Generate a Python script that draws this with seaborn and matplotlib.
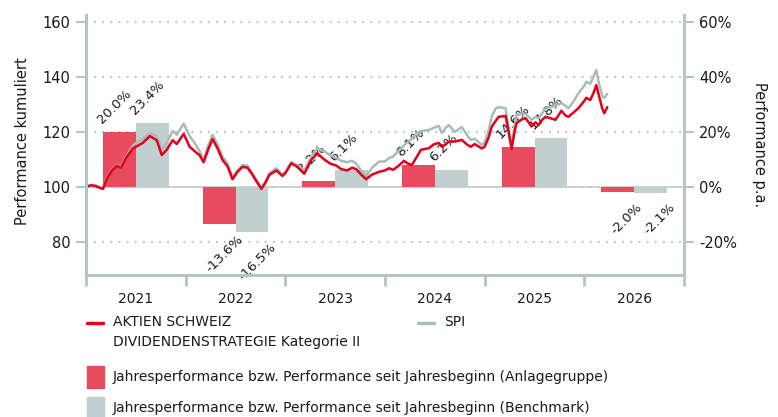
import matplotlib
matplotlib.use("Agg")
import matplotlib.pyplot as plt
import seaborn as sns
import pandas as pd
from matplotlib.lines import Line2D
from matplotlib.patches import Rectangle
from matplotlib.ticker import FuncFormatter

# ---------------- data ----------------
dates = [2021.00, 2021.05, 2021.10, 2021.14, 2021.17, 2021.21, 2021.26, 2021.31, 2021.35, 2021.41,
         2021.47, 2021.52, 2021.57, 2021.64, 2021.71, 2021.76, 2021.81, 2021.87, 2021.91, 2021.98,
         2022.04, 2022.09, 2022.14, 2022.18, 2022.23, 2022.27, 2022.32, 2022.37, 2022.42, 2022.47,
         2022.52, 2022.57, 2022.62, 2022.67, 2022.72, 2022.76, 2022.80, 2022.84, 2022.91, 2022.97,
         2023.00, 2023.06, 2023.12, 2023.19, 2023.26, 2023.32, 2023.39, 2023.45, 2023.51, 2023.56,
         2023.62, 2023.67, 2023.71, 2023.76, 2023.81, 2023.87, 2023.94,
         2024.00, 2024.04, 2024.08, 2024.13, 2024.19, 2024.23, 2024.27, 2024.32, 2024.36, 2024.40,
         2024.44, 2024.49, 2024.54, 2024.57, 2024.61, 2024.64, 2024.70, 2024.77, 2024.82, 2024.86,
         2024.90, 2024.97,
         2025.00, 2025.04, 2025.07, 2025.11, 2025.14, 2025.21, 2025.24, 2025.27, 2025.30, 2025.32,
         2025.37, 2025.41, 2025.44, 2025.47, 2025.51, 2025.54, 2025.58, 2025.61, 2025.66, 2025.71,
         2025.74, 2025.77, 2025.81, 2025.84, 2025.89, 2025.94,
         2026.00, 2026.02, 2026.06, 2026.09, 2026.12, 2026.15, 2026.18, 2026.20, 2026.23]

fund = [100, 100.6, 100.3, 99.6, 99.3, 103, 106, 107.7, 107, 111,
        114, 115, 116, 118.5, 117, 111.6, 113.5, 117, 115.6, 119.3,
        114.6, 113, 111.5, 109, 114, 117.4, 114, 109.8, 107.5, 102.8,
        105.5, 107.3, 107, 104.4, 101.5, 99.3, 101.5, 104.4, 106, 104,
        105, 108.6, 107.3, 104.8, 109.8, 112.2, 110, 108.5, 107.8, 106.5,
        106, 107, 106.5, 104.5, 102.8, 104.5, 105.5,
        106.0, 106.8, 106.2, 107.5, 109.5, 108.5, 108, 111, 113.5, 113.8,
        114.1, 115.5, 116, 114.6, 115.5, 116.5, 116.5, 117.1, 115.5, 114.6,
        115.6, 114,
        114.6, 118, 121.8, 124, 125.5, 125.8, 120, 113.8, 120, 123.2,
        124.5, 125, 123.5, 122, 123.5, 122.5, 124.5, 125.5, 125, 124.4,
        126, 127.7, 126, 125.5, 127, 128.6,
        131.3, 132.4, 131.6, 134, 137, 132.7, 128.5, 126.8, 129]

spi = [100, 100.8, 100.5, 99.8, 99.5, 103.3, 106.3, 108, 107.5, 111.5,
       115, 116.5, 117.5, 119.6, 118.5, 113.5, 116, 120.4, 119, 123,
       118.5, 116, 113, 110, 115.5, 118.9, 115.5, 111, 108.5, 103.5,
       106, 108, 107.8, 105, 102, 99.7, 102, 105, 106.8, 104.5,
       105.5, 109, 108, 106, 111, 114.1, 113, 111.5, 110.5, 109.5,
       109, 109.5, 108.5, 106, 103.7, 107, 109.2,
       109.3, 110.5, 111, 113, 115, 116.5, 117.5, 119.5, 120.3, 120.5,
       120.7, 121.5, 122.2, 119.6, 121.5, 122.5, 120, 121.8, 119, 117.1,
       117.5, 115.3,
       116.1, 120.5, 125.5, 128.5, 129, 128.6, 121, 115.3, 122, 126.2,
       126.5, 126.5, 125.5, 124.4, 125.5, 125, 127, 128.5, 129, 129.5,
       130, 130.5, 129.5, 128.6, 131, 134,
       136.8, 138.2, 137.5, 140, 142.5, 137, 133, 132.4, 133.8]

years = [2021, 2022, 2023, 2024, 2025, 2026]
fund_returns = [20.0, -13.6, 2.2, 8.1, 14.6, -2.0]
spi_returns = [23.4, -16.5, 6.1, 6.2, 17.8, -2.1]

fund_name = "AKTIEN SCHWEIZ DIVIDENDENSTRATEGIE Kategorie II"
bench_name = "SPI"
bar_fund_label = "Jahresperformance bzw. Performance seit Jahresbeginn (Anlagegruppe)"
bar_bench_label = "Jahresperformance bzw. Performance seit Jahresbeginn (Benchmark)"

# ---------------- style ----------------
RED_LINE = "#e3001b"
GRAY_LINE = "#a9bcbc"
RED_BAR = "#e84b5d"
GRAY_BAR = "#c2cfcf"
SPINE = "#b3c6c6"
GRID = "#aebfbf"
TXT = "#1a1a1a"

sns.set_theme(style="white")
plt.rcParams['font.family'] = ['DejaVu Sans']
plt.rcParams['text.color'] = TXT

lines_df = pd.DataFrame({
    "date": dates * 2,
    "value": fund + spi,
    "series": [fund_name] * len(dates) + [bench_name] * len(dates),
})
bars_df = pd.DataFrame({
    "pos": [y + 0.5 for y in years] * 2,
    "ret": fund_returns + spi_returns,
    "series": ["Anlagegruppe"] * len(years) + ["Benchmark"] * len(years),
})

W, H = 778, 417
fig = plt.figure(figsize=(W / 100, H / 100), dpi=100)
ax = fig.add_axes([86 / W, 1 - 275 / H, (684 - 86) / W, (275 - 15) / H])
ax2 = ax.twinx()

# bars on the right (p.a.) axis, underneath
sns.barplot(data=bars_df, x="pos", y="ret", hue="series", native_scale=True,
            palette={"Anlagegruppe": RED_BAR, "Benchmark": GRAY_BAR},
            width=0.66, dodge=True, saturation=1, errorbar=None,
            legend=False, ax=ax2, zorder=2, linewidth=0)

ax2.set_ylim(-32, 62.5)
ax2.set_yticks([-20, 0, 20, 40, 60])
ax2.yaxis.set_major_formatter(FuncFormatter(lambda v, p: f"{v:.0f}%"))
ax2.grid(axis="y", linestyle=(0, (1, 3.5)), color=GRID, linewidth=1.3, zorder=0)
ax2.set_axisbelow(True)
ax2.axhline(0, color="#c9c9c9", linewidth=1.2, zorder=1)

# bar labels
for cont in ax2.containers:
    for bar in cont:
        h = bar.get_height()
        if h >= 0:
            ax2.annotate(f"{h:.1f}%", xy=(bar.get_x(), h), xytext=(1, 4),
                         textcoords="offset points", rotation=45,
                         rotation_mode="anchor", ha="left", va="bottom",
                         fontsize=9.5, color=TXT)
        else:
            ax2.annotate(f"{h:.1f}%", xy=(bar.get_x() + bar.get_width(), h),
                         xytext=(1, -6), textcoords="offset points", rotation=45,
                         rotation_mode="anchor", ha="right", va="top",
                         fontsize=9.5, color=TXT)

# lines on the left (cumulative) axis, on top
sns.lineplot(data=lines_df, x="date", y="value", hue="series",
             hue_order=[bench_name, fund_name],
             palette={fund_name: RED_LINE, bench_name: GRAY_LINE},
             linewidth=1.8, legend=False, ax=ax)
ax.set_zorder(ax2.get_zorder() + 1)
ax.patch.set_visible(False)

ax.set_xlim(2021, 2027)
ax.set_ylim(68, 162.5)
ax.set_yticks([80, 100, 120, 140, 160])
ax.set_xticks(range(2021, 2028))
ax.set_xticklabels([])
ax.set_xticks([y + 0.5 for y in years], minor=True)
ax.set_xticklabels([str(y) for y in years], minor=True)
ax.set_xlabel("")
ax.set_ylabel("")
ax.grid(False)
ax2.set_xlabel("")

for a in (ax, ax2):
    for s in a.spines.values():
        s.set_visible(False)
for side in ("left", "right", "bottom"):
    ax.spines[side].set_visible(True)
    ax.spines[side].set_color(SPINE)
    ax.spines[side].set_linewidth(2.2)

ax.tick_params(axis="x", which="major", bottom=True, length=8, width=2, color=SPINE, direction="out")
ax.tick_params(axis="x", which="minor", bottom=True, length=0, pad=12, labelsize=10, labelcolor=TXT)
ax.tick_params(axis="y", left=True, length=7, width=1.5, color=SPINE, pad=4, labelsize=10.5, labelcolor=TXT)
ax2.tick_params(axis="y", right=True, length=7, width=1.5, color=SPINE, pad=4, labelsize=10.5, labelcolor=TXT)

ax.set_ylabel("Performance kumuliert", fontsize=10.5, color=TXT)
ax.yaxis.set_label_coords((30 - 86) / 598, (275 - 141) / 260)
ax2.set_ylabel("Performance p.a.", fontsize=10.5, color=TXT, rotation=270, va="bottom")
ax2.yaxis.set_label_coords((752 - 86) / 598, (275 - 145) / 260)

# ---------------- legend ----------------
def fx(x):
    return x / W

def fy(y):
    return 1 - y / H

fig.add_artist(Line2D([fx(87), fx(103)], [fy(323)] * 2, transform=fig.transFigure, color=RED_LINE, lw=2.5))
fig.text(fx(113), fy(322), "AKTIEN SCHWEIZ", va="center", ha="left", fontsize=10)
fig.text(fx(113), fy(342), "DIVIDENDENSTRATEGIE Kategorie II", va="center", ha="left", fontsize=10)
fig.add_artist(Line2D([fx(418), fx(434)], [fy(323)] * 2, transform=fig.transFigure, color=GRAY_LINE, lw=2.5))
fig.text(fx(444), fy(322), bench_name, va="center", ha="left", fontsize=10)
fig.add_artist(Rectangle((fx(87), fy(388)), 17 / W, 22 / H, transform=fig.transFigure, color=RED_BAR))
fig.text(fx(113), fy(377), bar_fund_label, va="center", ha="left", fontsize=10)
fig.add_artist(Rectangle((fx(87), fy(419)), 17 / W, 22 / H, transform=fig.transFigure, color=GRAY_BAR))
fig.text(fx(113), fy(408), bar_bench_label, va="center", ha="left", fontsize=10)

fig.savefig("out.png", dpi=100)
